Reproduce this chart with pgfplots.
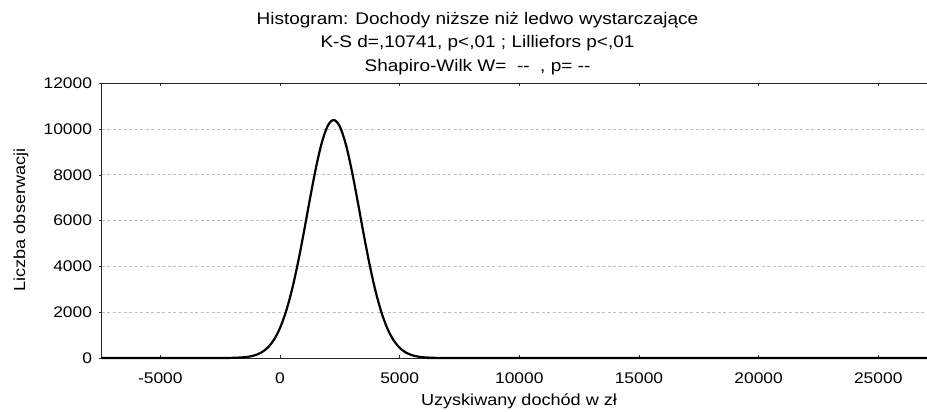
\documentclass[border=0pt]{standalone}
\usepackage{fontspec}
\setmainfont{Liberation Sans}[FakeStretch=1.13]
\usepackage{pgfplots}
\pgfplotsset{compat=1.18}
\begin{document}
\begin{tikzpicture}
\begin{axis}[at={(0,0)},anchor=south west, scale only axis,
  width=826.8bp, height=274.7bp,
  xmin=-7450, xmax=27100, ymin=0, ymax=12000,
  scaled x ticks=false, scaled y ticks=false,
  xtick={-5000,0,5000,10000,15000,20000,25000},
  xticklabels={-5000,0,5000,10000,15000,20000,25000},
  ytick={0,2000,4000,6000,8000,10000,12000},
  yticklabels={0,2000,4000,6000,8000,10000,12000},
  xtick align=inside, ytick align=outside, ytick pos=left, xtick pos=both,
  major tick length=3bp,
  tick style={black!80, line width=0.6bp},
  axis line style={black!85, line width=0.8bp},
  ymajorgrids, grid style={black!25, dash pattern=on 3bp off 2.5bp, line width=0.8bp},
  xticklabel style={font=\fontsize{15.4bp}{18bp}\selectfont, anchor=base, inner sep=0pt, yshift=-25bp},
  yticklabel style={font=\fontsize{15.4bp}{18bp}\selectfont, anchor=east, inner sep=0pt, xshift=-6.5bp},
  clip=false,
]
\addplot[black, line width=2.2bp, smooth, tension=0.5] coordinates {
(-7450,0) (-3000,0) (-2500,1) (-2000,6) (-1500,32) (-1250,68) (-1000,136) (-750,259)
(-500,467) (-250,802) (0,1308) (250,2026) (500,2977) (750,4153) (1000,5511)
(1250,6937) (1500,8294) (1750,9417) (2000,10155) (2250,10400) (2500,10114)
(2750,9339) (3000,8192) (3250,6822) (3500,5398) (3750,4053) (4000,2891)
(4250,1959) (4500,1259) (4750,770) (5000,446) (5250,246) (5500,129) (5750,64)
(6000,30) (6500,6) (7000,1) (7500,0) (27100,0)
};
\end{axis}
\node[anchor=base, font=\fontsize{16.8bp}{20bp}\selectfont] at (375.8bp,333.7bp) {Histogram: Dochody niższe niż ledwo wystarczające};
\node[anchor=base, font=\fontsize{16.8bp}{20bp}\selectfont] at (375.8bp,310bp) {K-S d=,10741, p<,01 ; Lilliefors p<,01};
\node[anchor=base, font=\fontsize{16.8bp}{20bp}\selectfont] at (375.8bp,286.3bp) {Shapiro-Wilk W=\ \ -{}-\ \ , p= -{}-};
\node[anchor=base, font=\fontsize{16bp}{19bp}\selectfont] at (417.3bp,-47bp) {Uzyskiwany dochód w zł};
\node[rotate=90, font=\fontsize{16bp}{19bp}\selectfont] at (-80.7bp,138bp) {Liczba obserwacji};
\pgfresetboundingbox
\path[use as bounding box] (-101.7bp,-54bp) rectangle (825.3bp,358bp);
\end{tikzpicture}
\end{document}
